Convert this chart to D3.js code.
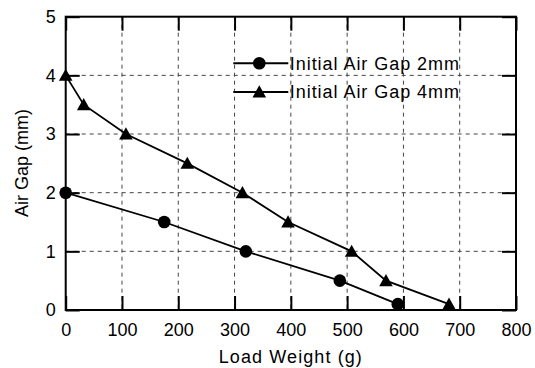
<!DOCTYPE html>
<html>
<head>
<meta charset="utf-8">
<script src="https://cdn.jsdelivr.net/npm/d3@7/dist/d3.min.js"></script>
<style>
  body { margin: 0; background: #fff; }
  text { font-family: "Liberation Sans", Arial, sans-serif; fill: #000; }
</style>
</head>
<body>
<div id="chart"></div>
<script>
// data
var loadGap2 = [0, 175, 320, 487, 590];
var gap2 = [2.0, 1.5, 1.0, 0.5, 0.1];
var loadGap4 = [0, 32, 107, 216, 314, 395, 508, 569, 681];
var gap4 = [4.0, 3.5, 3.0, 2.5, 2.0, 1.5, 1.0, 0.5, 0.1];
var xTicks = [0, 100, 200, 300, 400, 500, 600, 700, 800];
var yTicks = [0, 1, 2, 3, 4, 5];
var seriesNames = ["Initial Air Gap 2mm", "Initial Air Gap 4mm"];

var W = 535, H = 368;
var margin = {top: 16.7, right: 19, bottom: 58, left: 65.7},
    width = W - margin.left - margin.right,
    height = H - margin.top - margin.bottom;

var x = d3.scaleLinear().domain([0, 800]).range([0, width]);
var y = d3.scaleLinear().domain([0, 5]).range([height, 0]);

var svg = d3.select("#chart").append("svg")
    .attr("width", W)
    .attr("height", H)
    .append("g")
    .attr("transform", "translate(" + margin.left + "," + margin.top + ")");

// dashed grid
svg.selectAll(".vgrid")
    .data(xTicks.slice(1, -1))
    .enter().append("line")
    .attr("x1", d => x(d)).attr("x2", d => x(d))
    .attr("y1", 0).attr("y2", height)
    .attr("stroke", "#444").attr("stroke-width", 1)
    .attr("stroke-dasharray", "4,4");

svg.selectAll(".hgrid")
    .data(yTicks.slice(1, -1))
    .enter().append("line")
    .attr("x1", 0).attr("x2", width)
    .attr("y1", d => y(d)).attr("y2", d => y(d))
    .attr("stroke", "#444").attr("stroke-width", 1)
    .attr("stroke-dasharray", "4,4");

// axes, ticks pointing inward
var fmt = d3.format("d");
var xAxis = d3.axisBottom(x).tickValues(xTicks).tickSize(-14).tickSizeOuter(0).tickPadding(13).tickFormat(fmt);
var yAxis = d3.axisLeft(y).tickValues(yTicks).tickSize(-14).tickSizeOuter(0).tickPadding(10).tickFormat(fmt);
var xTop = d3.axisTop(x).tickValues(xTicks).tickSize(-14).tickSizeOuter(0).tickFormat("");
var yRight = d3.axisRight(y).tickValues(yTicks).tickSize(-14).tickSizeOuter(0).tickFormat("");

function styleAxis(g) {
  g.select(".domain").remove();
  g.selectAll(".tick line").attr("stroke", "#000").attr("stroke-width", 2);
  g.selectAll(".tick text").attr("font-size", 18).attr("fill", "#000");
}

svg.append("g").attr("transform", "translate(0," + height + ")").call(xAxis).call(styleAxis);
svg.append("g").call(yAxis).call(styleAxis);
svg.append("g").call(xTop).call(styleAxis);
svg.append("g").attr("transform", "translate(" + width + ",0)").call(yRight).call(styleAxis);

svg.append("rect")
    .attr("width", width).attr("height", height)
    .attr("fill", "none").attr("stroke", "#000").attr("stroke-width", 2);

// series
var line = d3.line().x(d => x(d[0])).y(d => y(d[1]));
var s2 = loadGap2.map((v, i) => [v, gap2[i]]);
var s4 = loadGap4.map((v, i) => [v, gap4[i]]);

function tri(cx, cy) {
  return "M" + cx + "," + (cy - 6.7) + "L" + (cx + 6.8) + "," + (cy + 5.5) +
         "L" + (cx - 6.8) + "," + (cy + 5.5) + "Z";
}

[s2, s4].forEach(function(s) {
  svg.append("path").datum(s)
      .attr("d", line)
      .attr("fill", "none").attr("stroke", "#000").attr("stroke-width", 1.8);
});

svg.selectAll(".dot")
    .data(s2)
    .enter().append("circle")
    .attr("cx", d => x(d[0])).attr("cy", d => y(d[1]))
    .attr("r", 6.3).attr("fill", "#000");

svg.selectAll(".tri")
    .data(s4)
    .enter().append("path")
    .attr("d", d => tri(x(d[0]), y(d[1])))
    .attr("fill", "#000");

// legend
var legendX = 233.3 - margin.left;
var legendY = [63.3 - margin.top, 92 - margin.top];
seriesNames.forEach(function(name, i) {
  var ly = legendY[i];
  svg.append("line")
      .attr("x1", legendX).attr("x2", legendX + 55)
      .attr("y1", ly).attr("y2", ly)
      .attr("stroke", "#000").attr("stroke-width", 2);
  if (i === 0) {
    svg.append("circle").attr("cx", legendX + 26).attr("cy", ly).attr("r", 6.3).attr("fill", "#000");
  } else {
    svg.append("path").attr("d", tri(legendX + 26, ly)).attr("fill", "#000");
  }
  svg.append("text")
      .attr("x", legendX + 56.5).attr("y", ly)
      .attr("dy", "0.36em")
      .attr("font-size", 18)
      .attr("letter-spacing", 0.95)
      .text(name);
});

// axis titles
svg.append("text")
    .attr("x", width / 2).attr("y", 363 - margin.top)
    .attr("text-anchor", "middle")
    .attr("font-size", 18)
    .attr("letter-spacing", 1.1)
    .text("Load Weight (g)");

svg.append("text")
    .attr("transform", "rotate(-90)")
    .attr("x", -(163 - margin.top)).attr("y", 27.5 - margin.left)
    .attr("text-anchor", "middle")
    .attr("font-size", 18)
    .text("Air Gap (mm)");
</script>
</body>
</html>
